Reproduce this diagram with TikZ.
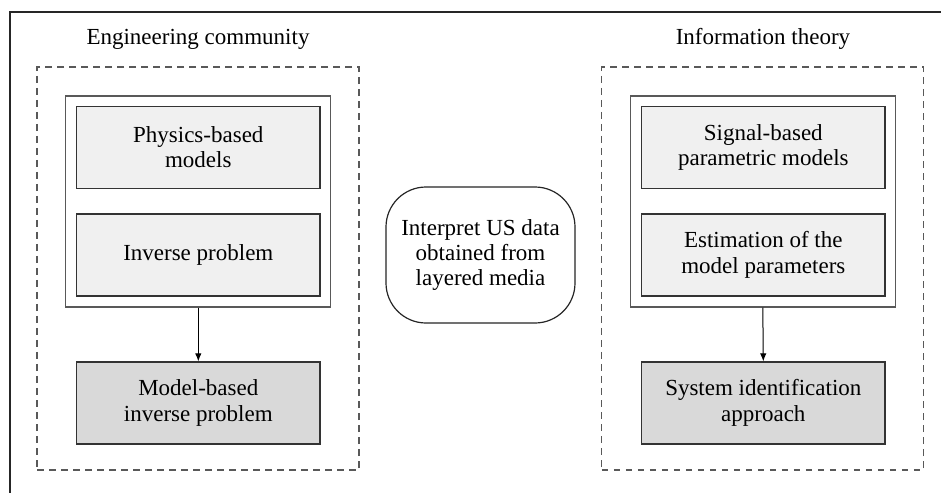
\documentclass[tikz,border=0pt]{standalone}
\usepackage{fontspec}
\setmainfont{Liberation Serif}
\usetikzlibrary{arrows.meta}
\definecolor{lightbox}{HTML}{F0F0F0}
\definecolor{darkbox}{HTML}{D9D9D9}
\begin{document}
\begin{tikzpicture}[x=0.5pt,y=-0.5pt,
  txt/.style={font=\fontsize{11.5}{12.7}\selectfont, align=center},
  lbox/.style={txt, draw=black!80, fill=lightbox, line width=0.6pt, minimum width=121.7pt, minimum height=41pt, inner sep=0pt},
  dbox/.style={lbox, fill=darkbox},
  innerbox/.style={draw=black!65, line width=0.6pt, minimum width=132.5pt, minimum height=105.5pt, inner sep=0pt},
  dashbox/.style={draw=black!65, dash pattern=on 3.3pt off 2.7pt, line width=0.6pt, minimum width=161pt, minimum height=201.5pt, inner sep=0pt},
  arr/.style={-{Latex[length=4pt,width=3.2pt]}, line width=0.5pt, black}
]
\useasboundingbox (0,0) rectangle (941,492);
\clip (0,0) rectangle (941,492);
\fill[white] (0,0) rectangle (941,492);
% outer frame (partly outside the picture)
\draw[line width=0.6pt, black!85] (10,520) -- (10,12) -- (960,12);

% titles
\node[txt, anchor=base] (tl) at (198,45) {Engineering community};
\node[txt, anchor=base] (tr) at (763,45) {Information theory};

% left column
\node[dashbox] (dashL) at (198,268.5) {};
\node[innerbox] (innL) at (198.3,201.5) {};
\node[lbox] (phys) at (198.3,147.3) {Physics-based\\models};
\node[lbox] (inv) at (198.3,255) {Inverse problem};
\node[dbox] (mbip) at (198.3,403) {Model-based\\inverse problem};
\draw[arr] (innL.south) -- (mbip.north);

% right column
\node[dashbox] (dashR) at (762.8,268.5) {};
\node[innerbox] (innR) at (762.8,201.5) {};
\node[lbox] (sig) at (763.3,147.3) {Signal-based\\parametric models};
\node[lbox] (est) at (763.3,255) {Estimation of the\\model parameters};
\node[dbox] (sys) at (763.3,403) {System identification\\approach};
\draw[arr] (innR.south) -- (sys.north);

% centre
\node[txt, draw=black!85, line width=0.6pt, rounded corners=20pt, minimum width=94.5pt, minimum height=68pt, inner sep=0pt] (centre) at (480.5,255) {Interpret US data\\obtained from\\layered media};
\end{tikzpicture}
\end{document}
